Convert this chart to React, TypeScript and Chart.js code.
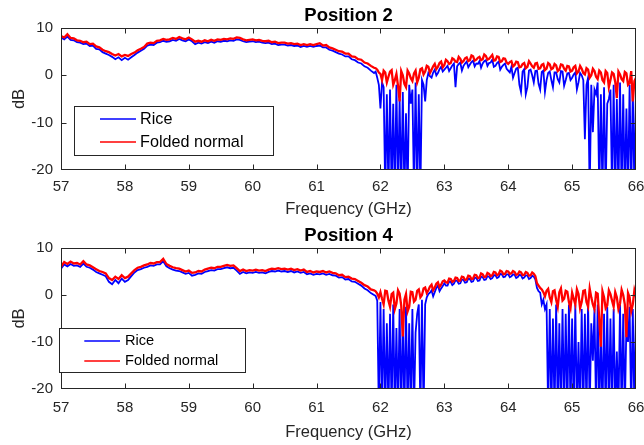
import React, { useEffect, useRef } from "react";
import { Chart, registerables } from "chart.js";

Chart.register(...registerables);

// ---------- data ----------
// Coarse frequency grid: 57.00 .. 66.00 GHz in 0.05 GHz steps (181 samples)
const F_START = 57;
const F_STEP = 0.05;
// Extra in-between samples for the noisy band: 61.925 .. 65.975 GHz (82 samples)
const MID_START = 61.925;

const FREQ_TICKS = [57, 58, 59, 60, 61, 62, 63, 64, 65, 66];
const DB_TICKS = [10, 0, -10, -20];

// Position 2 — Rice (blue)
const P2_RICE = [
  8.0, 7.6, 8.2, 7.5, 7.4, 7.0, 6.9, 6.6, 6.7, 6.2, 6.3, 5.6, 5.5, 4.9, 4.6, 4.3, 3.9, 3.4, 3.8, 3.2,
  3.7, 3.3, 3.8, 4.3, 4.8, 5.2, 5.6, 6.3, 6.5, 6.4, 6.9, 7.0, 7.3, 7.1, 7.2, 7.5, 7.3, 7.7, 7.4, 7.2,
  7.6, 7.2, 6.6, 6.9, 6.7, 7.0, 6.8, 7.1, 6.9, 7.2, 7.1, 7.3, 7.2, 7.4, 7.3, 7.6, 7.5, 7.2, 7.0, 7.1,
  7.2, 7.0, 7.1, 6.9, 6.8, 6.9, 6.6, 6.7, 6.4, 6.5, 6.5, 6.3, 6.4, 6.2, 6.3, 6.0, 6.2, 6.0, 6.2, 6.0,
  6.2, 6.3, 5.9, 5.9, 5.4, 5.2, 4.9, 4.6, 4.4, 4.0, 4.0, 3.4, 3.2, 2.7, 2.5, 1.9, 1.6, 1.0, 0.5, -0.5,
  -7.0, -2.5, -4.0, -3.0, -6.0, -2.0, -5.0, -3.5, -8.0, -2.0, -3.0, -1.5, -4.0, -1.0, -5.5, 0.5, -0.5, 1.2, 0.5, 1.8,
  1.2, 2.0, 1.5, 2.5, 1.9, 2.7, 2.0, 2.9, 2.3, 3.1, 2.5, 3.0, 2.5, 3.2, 2.6, 3.3, 2.0, 2.9, 1.8, 2.5,
  1.0, 1.8, 0.5, 1.6, -3.5, 1.3, -2.5, 1.2, -1.5, 1.0, -3.0, 1.0, -1.0, 0.8, -2.5, 0.6, -1.5, 0.8, -1.0, 0.5,
  -0.5, 0.6, -1.5, 0.0, -13.5, -0.5, -2.0, -3.0, -1.5, -4.0, -2.5, -6.0, -3.0, -2.0, -5.0, -1.5, -4.0, -7.0, -2.0, -3.0,
  -2.0,
];
const P2_RICE_MID = [
  0.8, -2.0,
  -1.5, -25, -25, -25, -25, -25, -25, -25, -25, -6.0, -25, -25, -25, -2.0, -1.0, -0.2, 0.6, 0.0, 1.3, 0.8,
  1.6, 0.9, 2.1, -2.5, 2.4, 1.0, 2.5, 1.7, 2.8, 1.9, 2.4, 1.6, 3.0, 2.0, 2.7, 1.8, 2.6, 1.2, 2.2, 1.4,
  0.6, -0.5, 1.4, -2.0, 0.8, -4.0, 1.0, 0.0, 0.9, -1.8, 0.7, -3.5, 0.5, -1.0, 0.6, -0.8, 0.9, -2.2, 0.4, -1.0,
  0.2, -3.0, 0.5, -1.0, -2.0, -25, -12.0, -4.0, -25, -25, -25, -5.0, -25, -25, -25, -25, -25, -25, -25, -25,
];

// Position 2 — Folded normal (red)
const P2_FOLDED = [
  8.3, 8.0, 8.7, 7.9, 7.8, 7.4, 7.3, 7.0, 7.1, 6.6, 6.7, 6.1, 5.9, 5.4, 5.1, 4.9, 4.5, 4.2, 4.5, 4.0,
  4.3, 4.1, 4.5, 4.8, 5.3, 5.6, 6.0, 6.7, 6.9, 6.8, 7.3, 7.4, 7.7, 7.5, 7.6, 7.9, 7.7, 8.1, 7.8, 7.6,
  8.0, 7.6, 7.1, 7.3, 7.1, 7.4, 7.2, 7.5, 7.3, 7.6, 7.5, 7.7, 7.6, 7.8, 7.7, 8.0, 7.9, 7.6, 7.4, 7.5,
  7.6, 7.4, 7.5, 7.3, 7.2, 7.3, 7.0, 7.1, 6.8, 6.9, 6.9, 6.7, 6.8, 6.6, 6.7, 6.4, 6.6, 6.4, 6.6, 6.4,
  6.6, 6.8, 6.3, 6.4, 5.9, 5.7, 5.4, 5.1, 5.0, 4.6, 4.6, 4.0, 3.9, 3.4, 3.3, 2.7, 2.5, 2.0, 1.6, 1.2,
  0.3, 1.0, -1.5, 0.8, -2.0, 0.3, -5.5, 0.0, -2.5, 0.4, -1.2, 1.0, -0.5, 1.5, 0.8, 1.8, 1.2, 2.4, 1.8, 2.9,
  2.2, 3.0, 2.6, 3.4, 2.8, 3.5, 3.0, 3.8, 3.2, 4.0, 3.3, 3.9, 3.4, 4.1, 3.5, 4.3, 3.2, 3.9, 3.0, 3.5,
  2.4, 3.0, 2.2, 2.8, 1.8, 2.6, 1.8, 2.5, 1.6, 2.6, 1.5, 2.4, 1.4, 2.3, 1.5, 2.1, 1.2, 2.2, 1.0, 1.9,
  1.0, 2.0, 0.8, 1.4, 0.2, 1.2, 0.0, 0.9, -0.8, 0.6, -1.5, 0.5, -1.0, 0.3, -4.8, 0.2, -1.2, 0.4, -1.6, -5.5,
  -0.5,
];
const P2_FOLDED_MID = [
  1.5, 0.6,
  -1.0, 0.6, -0.3, 1.1, -1.0, -2.2, 0.9, -1.8, 1.0, -0.6, 0.4, -1.5, 1.3, 0.2, 2.0, 0.5, 1.9, 1.3, 2.6, 1.7,
  3.3, 2.4, 3.6, 2.9, 3.9, 2.7, 3.6, 3.0, 4.2, 3.1, 3.7, 3.2, 4.4, 3.3, 3.9, 3.1, 4.0, 2.8, 3.6, 2.7,
  2.8, 1.9, 2.9, 1.7, 2.4, 1.5, 3.0, 1.9, 2.5, 1.4, 2.2, 1.1, 2.6, 1.3, 2.4, 0.9, 2.3, 1.4, 2.0, 0.8,
  1.7, 0.4, 2.0, 0.5, 1.5, -0.5, 1.4, -0.3, 1.0, -1.0, 0.9, -2.5, 0.6, -1.4, 0.8, -0.8, 0.7, -2.0, 0.9, -1.2,
];

// Position 4 — Rice (blue)
const P4_RICE = [
  5.6, 6.5, 6.1, 6.6, 6.2, 6.3, 6.0, 6.7, 6.0, 5.8, 5.4, 4.9, 4.6, 4.3, 4.0, 2.8, 2.3, 3.2, 2.5, 3.5,
  2.8, 3.2, 4.0, 4.8, 5.3, 5.5, 5.8, 6.0, 6.3, 6.2, 6.5, 6.5, 7.2, 6.1, 5.7, 5.4, 5.2, 5.1, 4.8, 4.5,
  4.7, 4.1, 4.3, 4.6, 4.5, 4.9, 5.1, 5.3, 5.2, 5.5, 5.5, 5.7, 5.9, 5.7, 5.8, 5.2, 4.5, 4.9, 4.6, 4.8,
  4.7, 4.9, 4.7, 4.8, 4.6, 4.9, 5.1, 5.0, 5.2, 5.0, 5.1, 4.9, 5.1, 4.8, 5.0, 4.7, 4.9, 4.4, 4.6, 4.3,
  4.5, 4.4, 4.6, 4.3, 4.5, 4.2, 4.1, 3.7, 3.8, 3.3, 3.4, 2.9, 2.8, 2.4, 2.0, 1.4, 1.0, 0.4, 0.0, -1.2,
  -1.5, -3.0, -6.0, -4.0, -2.0, -7.0, -3.0, -5.0, -2.5, -6.0, -3.0, -8.0, -2.0, -1.0, -2.0, 0.2, 1.0, 0.6, 2.0, 1.4,
  2.5, 2.0, 2.8, 2.4, 3.0, 2.5, 3.2, 2.7, 3.4, 2.9, 3.6, 3.1, 3.8, 3.3, 3.9, 3.6, 4.2, 3.8, 4.4, 3.9,
  4.4, 4.0, 4.3, 3.8, 4.2, 3.7, 4.1, 3.6, 3.9, 1.5, 0.5, -1.0, -2.0, -3.0, -5.0, -2.0, -6.0, -3.0, -4.0, -2.0,
  -5.0, -2.0, -10.0, -3.0, -4.0, -1.5, -6.0, -3.0, -2.0, -8.0, -4.0, -2.5, -5.0, -3.0, -12.0, -2.0, -4.0, -6.0, -2.5, -3.0,
  -2.0,
];
const P4_RICE_MID = [
  -0.2, -25,
  -25, -25, -25, -25, -25, -25, -25, -25, -25, -25, -25, -4.0, -25, -25, -0.5, 0.5, -0.3, 1.5, 0.8, 1.9,
  2.0, 2.9, 2.1, 3.1, 2.4, 3.3, 2.6, 3.5, 2.8, 3.7, 3.0, 3.9, 3.2, 4.0, 3.4, 4.2, 3.6, 4.5, 3.8, 4.4,
  3.8, 4.4, 3.6, 4.3, 3.5, 4.2, 3.4, 4.1, 3.3, 0.8, -2.0, -3.0, -25, -25, -25, -25, -25, -25, -25, -25,
  -25, -25, -25, -25, -25, -25, -14.0, -25, -25, -25, -25, -25, -25, -25, -25, -25, -25, -10.0, -25, -25,
];

// Position 4 — Folded normal (red)
const P4_FOLDED = [
  6.0, 7.0, 6.6, 7.1, 6.7, 6.8, 6.5, 7.2, 6.5, 6.3, 5.9, 5.5, 5.1, 4.9, 4.6, 3.6, 3.2, 3.9, 3.4, 4.2,
  3.6, 3.9, 4.6, 5.3, 5.8, 6.0, 6.3, 6.5, 6.8, 6.7, 7.0, 7.0, 7.7, 6.6, 6.2, 5.9, 5.7, 5.6, 5.3, 5.0,
  5.2, 4.7, 4.8, 5.1, 5.0, 5.4, 5.6, 5.8, 5.7, 6.0, 6.0, 6.2, 6.4, 6.2, 6.3, 5.7, 5.1, 5.4, 5.1, 5.3,
  5.2, 5.4, 5.2, 5.3, 5.1, 5.4, 5.6, 5.5, 5.7, 5.5, 5.6, 5.4, 5.6, 5.3, 5.5, 5.2, 5.4, 4.9, 5.1, 4.8,
  5.0, 4.9, 5.1, 4.8, 5.0, 4.7, 4.6, 4.2, 4.3, 3.8, 3.9, 3.5, 3.4, 3.0, 2.6, 2.1, 1.8, 1.2, 1.0, 0.3,
  0.6, -2.0, 0.8, -2.5, 0.5, -1.8, 0.3, -8.8, 0.2, -2.5, 0.6, -1.0, 1.2, 0.0, 1.6, 1.0, 2.2, 1.6, 2.7, 2.2,
  3.1, 2.6, 3.4, 3.0, 3.6, 3.1, 3.8, 3.3, 4.0, 3.5, 4.2, 3.7, 4.4, 3.9, 4.5, 4.2, 4.8, 4.4, 5.0, 4.5,
  5.0, 4.6, 4.9, 4.4, 4.8, 4.3, 4.7, 4.2, 4.5, 2.5, 1.5, 0.6, 0.9, -0.5, 0.8, -1.0, 0.6, -1.2, 0.9, -1.5,
  0.5, -2.0, 0.2, -1.5, 1.0, -2.5, -0.5, -3.0, 0.3, -11.0, -0.5, -2.2, 0.2, -2.5, -0.5, -1.8, 0.0, -9.0, -0.5, -2.0,
  -0.3,
];
const P4_FOLDED_MID = [
  0.8, -0.5,
  -0.8, 0.9, -1.2, 0.2, -3.0, 1.0, -2.2, -1.0, -3.5, 0.7, -1.4, 0.9, -0.5, 1.4, 0.4, 1.8, 1.0, 2.4, 1.7, 2.9,
  2.7, 3.5, 2.8, 3.7, 3.0, 3.9, 3.2, 4.1, 3.4, 4.3, 3.6, 4.6, 3.8, 4.7, 4.0, 4.9, 4.2, 5.2, 4.4, 5.1,
  4.5, 5.1, 4.3, 5.0, 4.2, 4.9, 4.1, 4.8, 4.0, 2.0, 1.2, -0.3, 1.3, -1.5, 1.0, -2.5, 1.4, -0.8, 0.7, -2.8,
  -0.8, 1.2, -2.8, 0.9, -1.5, 1.4, -2.0, 0.5, -5.0, 0.8, -2.8, 1.0, -1.2, 0.6, -3.0, 1.1, -2.0, 0.4, -3.5, 1.0,
];

const SERIES_NAMES = ["Rice", "Folded normal"];

// ---------- styling ----------
const FONT = "'Liberation Sans', Arial, Helvetica, sans-serif";
const AXIS_COLOR = "#262626";
const BLUE = "#0000ff";
const RED = "#ff0000";

type LegendCfg = {
  x: number; y: number; w: number; h: number;
  fontSize: number; lineX1: number; lineX2: number; rows: number[]; textX: number;
};
type PanelCfg = {
  title: string;
  titleBaseline: number;
  tickLabelY: number;
  xLabelBaseline: number;
  padding: { left: number; top: number; right: number; bottom: number };
  legend: LegendCfg;
};

const r3 = (v: number) => Math.round(v * 1000) / 1000;
const toPoints = (coarse: number[], mid: number[]) => {
  const pts = coarse.map((v, i) => ({ x: r3(F_START + i * F_STEP), y: v }));
  mid.forEach((v, k) => pts.push({ x: r3(MID_START + k * F_STEP), y: v }));
  pts.sort((a, b) => a.x - b.x);
  return pts;
};

function makeDecor(cfg: PanelCfg) {
  return {
    id: "matlabDecor",
    afterDraw(chart: any) {
      const { ctx, chartArea: a, scales } = chart;
      const xs = scales.x;
      const ys = scales.y;
      ctx.save();
      const L = Math.round(a.left) + 0.5;
      const R = Math.round(a.right) - 0.5;
      const T = Math.round(a.top) + 0.5;
      const B = Math.round(a.bottom) - 0.5;

      // axes box
      ctx.strokeStyle = AXIS_COLOR;
      ctx.lineWidth = 1;
      ctx.strokeRect(L, T, R - L, B - T);

      // inward ticks
      ctx.beginPath();
      for (const v of FREQ_TICKS) {
        let x = Math.round(xs.getPixelForValue(v)) + 0.5;
        if (x > R) x = R;
        ctx.moveTo(x, B); ctx.lineTo(x, B - 5);
        ctx.moveTo(x, T); ctx.lineTo(x, T + 5);
      }
      for (const v of DB_TICKS) {
        let y = Math.round(ys.getPixelForValue(v)) + 0.5;
        if (y > B) y = B;
        ctx.moveTo(L, y); ctx.lineTo(L + 5, y);
        ctx.moveTo(R, y); ctx.lineTo(R - 5, y);
      }
      ctx.stroke();

      // tick labels
      ctx.fillStyle = AXIS_COLOR;
      ctx.font = `15px ${FONT}`;
      ctx.textAlign = "center";
      ctx.textBaseline = "middle";
      for (const v of FREQ_TICKS) {
        ctx.fillText(String(v), xs.getPixelForValue(v), cfg.tickLabelY);
      }
      ctx.textAlign = "right";
      for (const v of DB_TICKS) {
        ctx.fillText(String(v), a.left - 8, ys.getPixelForValue(v));
      }

      // axis labels
      ctx.font = `16.5px ${FONT}`;
      ctx.textAlign = "center";
      ctx.textBaseline = "alphabetic";
      ctx.fillText("Frequency (GHz)", (a.left + a.right) / 2, cfg.xLabelBaseline);
      ctx.save();
      ctx.translate(23.5, (a.top + a.bottom) / 2);
      ctx.rotate(-Math.PI / 2);
      ctx.fillText("dB", 0, 0);
      ctx.restore();

      // title
      ctx.fillStyle = "#000";
      ctx.font = `bold 18.5px ${FONT}`;
      ctx.fillText(cfg.title, (a.left + a.right) / 2, cfg.titleBaseline);

      // legend
      const lg = cfg.legend;
      ctx.fillStyle = "#fff";
      ctx.fillRect(lg.x, lg.y, lg.w, lg.h);
      ctx.strokeStyle = AXIS_COLOR;
      ctx.lineWidth = 1;
      ctx.strokeRect(Math.round(lg.x) + 0.5, Math.round(lg.y) + 0.5, Math.round(lg.w), Math.round(lg.h));
      const colors = [BLUE, RED];
      ctx.font = `${lg.fontSize}px ${FONT}`;
      ctx.textAlign = "left";
      ctx.textBaseline = "middle";
      SERIES_NAMES.forEach((name, i) => {
        const y = Math.round(lg.rows[i]);
        ctx.strokeStyle = colors[i];
        ctx.lineWidth = 1.5;
        ctx.beginPath();
        ctx.moveTo(lg.lineX1, y);
        ctx.lineTo(lg.lineX2, y);
        ctx.stroke();
        ctx.fillStyle = "#000";
        ctx.fillText(name, lg.textX, lg.rows[i] + 0.5);
      });
      ctx.restore();
    },
  };
}

function Panel({ cfg, rice, riceMid, folded, foldedMid, top }: {
  cfg: PanelCfg; rice: number[]; riceMid: number[]; folded: number[]; foldedMid: number[]; top: number;
}) {
  const ref = useRef<HTMLCanvasElement | null>(null);
  useEffect(() => {
    if (!ref.current) return;
    const chart = new Chart(ref.current, {
      type: "line",
      data: {
        datasets: [
          {
            label: SERIES_NAMES[1],
            data: toPoints(folded, foldedMid),
            borderColor: RED,
            borderWidth: 2.3,
            pointRadius: 0,
            tension: 0,
          },
          {
            label: SERIES_NAMES[0],
            data: toPoints(rice, riceMid),
            borderColor: BLUE,
            borderWidth: 1.8,
            pointRadius: 0,
            tension: 0,
          },
        ],
      },
      options: {
        animation: false,
        responsive: false,
        events: [],
        layout: { padding: cfg.padding },
        plugins: { legend: { display: false }, tooltip: { enabled: false }, title: { display: false } },
        scales: {
          x: { type: "linear", min: 57, max: 66, display: false },
          y: { type: "linear", min: -20, max: 10, display: false },
        },
      },
      plugins: [makeDecor(cfg)],
    });
    return () => chart.destroy();
  }, []);
  return (
    <canvas
      ref={ref}
      width={644}
      height={222}
      style={{ position: "absolute", left: 0, top, width: 644, height: 222 }}
    />
  );
}

const TOP_CFG: PanelCfg = {
  title: "Position 2",
  titleBaseline: 20.7,
  tickLabelY: 186.5,
  xLabelBaseline: 213.5,
  padding: { left: 61, top: 28, right: 8, bottom: 52 },
  legend: { x: 73.7, y: 105.5, w: 198.5, h: 48.5, fontSize: 16.2, lineX1: 100, lineX2: 136, rows: [119, 141.7], textX: 140 },
};

const BOTTOM_CFG: PanelCfg = {
  title: "Position 4",
  titleBaseline: 20.7,
  tickLabelY: 187.5,
  xLabelBaseline: 216.8,
  padding: { left: 61, top: 28, right: 8, bottom: 53 },
  legend: { x: 59.3, y: 108.3, w: 185.7, h: 44, fontSize: 14.6, lineX1: 84.3, lineX2: 120, rows: [120.7, 140.7], textX: 125 },
};

export default function App() {
  return (
    <div style={{ position: "fixed", left: 0, top: 0, width: 644, height: 445, background: "#fff" }}>
      <Panel cfg={TOP_CFG} rice={P2_RICE} riceMid={P2_RICE_MID} folded={P2_FOLDED} foldedMid={P2_FOLDED_MID} top={0} />
      <Panel cfg={BOTTOM_CFG} rice={P4_RICE} riceMid={P4_RICE_MID} folded={P4_FOLDED} foldedMid={P4_FOLDED_MID} top={220} />
    </div>
  );
}
